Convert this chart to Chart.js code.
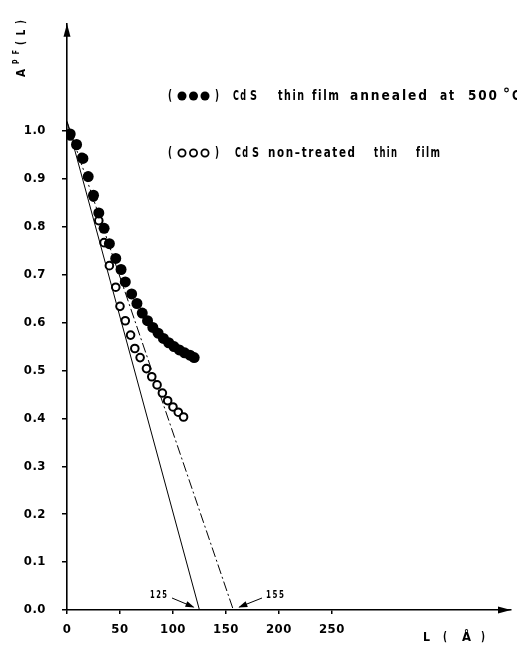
<!DOCTYPE html>
<html>
<head>
<meta charset="utf-8">
<script src="https://cdn.jsdelivr.net/npm/chart.js@4"></script>
<style>
  html, body { margin: 0; padding: 0; background: #fff; }
  #chart { display: block; }
</style>
</head>
<body>
<canvas id="chart" width="517" height="652" style="width:517px;height:652px"></canvas>
<script>
// annealed film (filled dots)
const annealedL = [3, 9, 15, 20, 25, 30, 35, 40, 46, 51, 55, 61, 66, 71, 76, 81, 86, 91, 96, 101, 106, 111, 116, 120];
const annealedA = [0.994, 0.972, 0.943, 0.905, 0.866, 0.829, 0.797, 0.765, 0.734, 0.711, 0.685, 0.660, 0.640, 0.620, 0.604, 0.590, 0.578, 0.567, 0.558, 0.550, 0.543, 0.537, 0.532, 0.527];

// non-treated film (open dots)
const untreatedL = [3, 9, 14, 20, 25, 30, 35, 40, 46, 50, 55, 60, 64, 69, 75, 80, 85, 90, 95, 100, 105, 110];
const untreatedA = [0.99, 0.97, 0.945, 0.905, 0.862, 0.813, 0.767, 0.719, 0.674, 0.634, 0.604, 0.574, 0.546, 0.527, 0.504, 0.487, 0.470, 0.453, 0.437, 0.424, 0.413, 0.403];

// initial-slope tangents
const tangentSolidL = [0, 125];
const tangentSolidA = [1.02, 0];
const tangentDashL = [0, 157];
const tangentDashA = [1.02, 0];

const xTicks = [0, 50, 100, 150, 200, 250];
const yTicks = [0, 0.1, 0.2, 0.3, 0.4, 0.5, 0.6, 0.7, 0.8, 0.9, 1.0];

const FONT = "'DejaVu Sans Condensed', 'Liberation Sans Narrow', 'DejaVu Sans', sans-serif";

const toPoints = (xs, ys) => xs.map((x, i) => ({ x: x, y: ys[i] }));

// draw a word squeezed / stretched to span x0..x1
function fitText(ctx, text, x0, x1, y, spacing) {
    ctx.letterSpacing = spacing + 'px';
    const w = ctx.measureText(text).width - spacing;
    ctx.save();
    ctx.translate(x0, y);
    ctx.scale((x1 - x0) / w, 1);
    ctx.textAlign = 'left';
    ctx.fillText(text, 0, 0);
    ctx.restore();
    ctx.letterSpacing = '0px';
}

function arrowHead(ctx, x1, y1, x2, y2, len, wid) {
    const a = Math.atan2(y2 - y1, x2 - x1);
    ctx.beginPath();
    ctx.moveTo(x2, y2);
    ctx.lineTo(x2 - len * Math.cos(a) + wid * Math.sin(a), y2 - len * Math.sin(a) - wid * Math.cos(a));
    ctx.lineTo(x2 - len * Math.cos(a) - wid * Math.sin(a), y2 - len * Math.sin(a) + wid * Math.cos(a));
    ctx.closePath();
    ctx.fill();
}

const decorations = {
    id: 'decorations',
    beforeDraw(chart) {
        chart.ctx.letterSpacing = '0.5px';
    },
    afterDraw(chart) {
        const ctx = chart.ctx;
        const xs = chart.scales.x, ys = chart.scales.y;
        const area = chart.chartArea;
        ctx.save();
        ctx.letterSpacing = '0px';
        ctx.fillStyle = '#000';
        ctx.strokeStyle = '#000';

        // axis arrows
        arrowHead(ctx, area.left, area.top + 20, area.left, area.top, 13, 3.5);
        arrowHead(ctx, area.right - 20, area.bottom, area.right, area.bottom, 13, 3.5);

        // y title A^Pf(L), reading bottom to top
        ctx.save();
        ctx.translate(25, 77);
        ctx.rotate(-Math.PI / 2);
        ctx.textBaseline = 'alphabetic';
        ctx.font = 'bold 13px ' + FONT;
        fitText(ctx, 'A', 0, 8, 0, 0);
        ctx.font = 'bold 9px ' + FONT;
        fitText(ctx, 'P F', 13, 27, -6, 2);
        ctx.font = 'bold 13px ' + FONT;
        fitText(ctx, '( L )', 32, 57, 0, 2);
        ctx.restore();

        // x title
        ctx.font = 'bold 13px ' + FONT;
        ctx.textBaseline = 'middle';
        fitText(ctx, 'L', 423, 430, 638, 0);
        fitText(ctx, '(', 443, 447, 638, 0);
        fitText(ctx, 'Å', 462, 471, 638, 0);
        fitText(ctx, ')', 481, 485, 638, 0);

        // legend
        ctx.font = 'bold 14px ' + FONT;
        ctx.textBaseline = 'middle';
        const rows = [
            { y: 96, filled: true, words: [['Cd', 233, 246], ['S', 250, 257], ['thin', 278, 304], ['film', 312, 339], ['annealed', 350, 427], ['at', 440, 454], ['500', 468, 497], ['C', 512, 520]] },
            { y: 153, filled: false, words: [['Cd', 235, 248], ['S', 252, 259], ['non\u2013treated', 268, 355], ['thin', 374, 397], ['film', 416, 440]] }
        ];
        rows.forEach(row => {
            fitText(ctx, '(', 168, 172, row.y, 0);
            fitText(ctx, ')', 215, 219, row.y, 0);
            [182, 193.5, 205].forEach(cx => {
                ctx.beginPath();
                if (row.filled) {
                    ctx.arc(cx, row.y, 4.5, 0, Math.PI * 2);
                    ctx.fill();
                } else {
                    ctx.lineWidth = 1.8;
                    ctx.arc(cx, row.y, 3.6, 0, Math.PI * 2);
                    ctx.stroke();
                }
            });
            row.words.forEach(w => fitText(ctx, w[0], w[1], w[2], row.y, 2));
        });
        ctx.lineWidth = 1.2;
        ctx.beginPath();
        ctx.arc(506.5, 90, 1.8, 0, Math.PI * 2);
        ctx.stroke();

        // intercept annotations
        ctx.font = 'bold 10px ' + FONT;
        ctx.textBaseline = 'middle';
        fitText(ctx, '125', 150, 167, 595, 2);
        fitText(ctx, '155', 266, 284, 595, 2);
        const x125 = xs.getPixelForValue(125), x155 = xs.getPixelForValue(157);
        const y0 = ys.getPixelForValue(0);
        ctx.lineWidth = 1;
        ctx.beginPath();
        ctx.moveTo(172, 598);
        ctx.lineTo(x125 - 6, y0 - 3);
        ctx.stroke();
        arrowHead(ctx, 172, 598, x125 - 5, y0 - 2.5, 9, 3);
        ctx.beginPath();
        ctx.moveTo(262, 598);
        ctx.lineTo(x155 + 6, y0 - 3);
        ctx.stroke();
        arrowHead(ctx, 262, 598, x155 + 5, y0 - 2.5, 9, 3);
        ctx.restore();
    }
};

const ctx = document.getElementById('chart').getContext('2d');
new Chart(ctx, {
    type: 'scatter',
    data: {
        datasets: [
            {
                label: 'CdS thin film annealed at 500 °C',
                data: toPoints(annealedL, annealedA),
                pointRadius: 5.5,
                pointBackgroundColor: '#000',
                pointBorderColor: '#000',
                pointBorderWidth: 0,
            },
            {
                label: 'CdS non-treated thin film',
                data: toPoints(untreatedL, untreatedA),
                pointRadius: 3.8,
                pointBackgroundColor: '#fff',
                pointBorderColor: '#000',
                pointBorderWidth: 2,
            },
            {
                label: 'tangent 125',
                data: toPoints(tangentSolidL, tangentSolidA),
                showLine: true,
                borderColor: '#000',
                borderWidth: 1,
                pointRadius: 0,
            },
            {
                label: 'tangent 155',
                data: toPoints(tangentDashL, tangentDashA),
                showLine: true,
                borderColor: '#000',
                borderWidth: 1,
                borderDash: [10, 3, 2, 3],
                pointRadius: 0,
            }
        ]
    },
    options: {
        responsive: false,
        animation: false,
        layout: { padding: { top: 15, right: 4, left: 0, bottom: 0 } },
        plugins: {
            legend: { display: false },
            tooltip: { enabled: false },
        },
        scales: {
            x: {
                type: 'linear',
                min: 0,
                max: 419,
                afterBuildTicks: axis => { axis.ticks = xTicks.map(v => ({ value: v })); },
                afterFit: axis => { axis.height = 42; },
                ticks: {
                    color: '#000',
                    padding: 8,
                    maxRotation: 0,
                    autoSkip: false,
                    font: { family: FONT, size: 13, weight: 'bold' },
                    callback: v => String(v),
                },
                grid: { drawOnChartArea: false, drawTicks: true, tickLength: 4, color: '#000', lineWidth: 1.5 },
                border: { display: true, color: '#000', width: 1.6 },
            },
            y: {
                type: 'linear',
                min: 0,
                max: 1.224,
                afterBuildTicks: axis => { axis.ticks = yTicks.map(v => ({ value: v })); },
                afterFit: axis => { axis.width = 67; },
                ticks: {
                    color: '#000',
                    padding: 16,
                    font: { family: FONT, size: 13, weight: 'bold' },
                    callback: v => v.toFixed(1),
                },
                grid: { drawOnChartArea: false, drawTicks: true, tickLength: 5, color: '#000', lineWidth: 1.5 },
                border: { display: true, color: '#000', width: 1.6 },
            }
        }
    },
    plugins: [decorations]
});
</script>
</body>
</html>
